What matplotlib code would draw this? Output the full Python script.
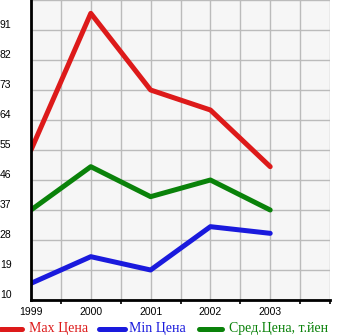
import matplotlib
matplotlib.use('Agg')
import matplotlib.pyplot as plt
from matplotlib.lines import Line2D

years = [1999, 2000, 2001, 2002, 2003]
max_price = [55, 96, 73, 67, 50]
min_price = [15, 23, 19, 32, 30]
avg_price = [37, 50, 41, 46, 37]
y_ticks = [10, 19, 28, 37, 46, 55, 64, 73, 82, 91]
labels = ['Max Цена', 'Min Цена', 'Сред.Цена, т.йен']
colors = ['#dd1a1a', '#1a1add', '#0a820a']

W, H = 345, 335
fig = plt.figure(figsize=(W / 100, H / 100), dpi=100)
ax = fig.add_axes([31 / W, 1 - 300 / H, 299 / W, 300 / H])
ax.set_facecolor('#f6f6f6')

for vals, c, lab in zip([max_price, min_price, avg_price], colors, labels):
    ax.plot(years, vals, color=c, lw=3.6, solid_capstyle='round', label=lab)

ax.set_xlim(1999, 2004)
ax.set_ylim(10, 100)
ax.set_yticks(y_ticks)
ax.set_yticklabels([str(v) for v in y_ticks], ha='left', va='bottom',
                   family='Liberation Sans', fontsize=7.5)
ax.set_xticks(years)
ax.set_xticklabels([str(y) for y in years], family='Liberation Sans', fontsize=7.5)
ax.set_xticks([1999.5, 2000.5, 2001.5, 2002.5, 2003.5, 2004], minor=True)
ax.grid(True, which='both', axis='x', color='#bbbbbb', lw=1)
ax.grid(True, which='major', axis='y', color='#bbbbbb', lw=1)
ax.axhline(100, color='#bbbbbb', lw=1)
ax.set_axisbelow(True)
ax.tick_params(axis='y', which='both', length=0, pad=22.5)
ax.tick_params(axis='x', which='major', length=0, pad=5)
ax.tick_params(axis='x', which='minor', length=3, width=1.2, direction='out')
for s in ['top', 'right']:
    ax.spines[s].set_visible(False)
for s in ['left', 'bottom']:
    ax.spines[s].set_linewidth(2)

# legend row along the bottom edge
handle_x = [(0, 22), (99, 125), (199, 222)]
text_x = [29, 129, 229]
ly = 1 - 328.5 / H
for (x0, x1), tx, c, lab in zip(handle_x, text_x, colors, labels):
    fig.add_artist(Line2D([x0 / W, x1 / W], [ly, ly], transform=fig.transFigure,
                          color=c, lw=3.6, solid_capstyle='round'))
    fig.text(tx / W, ly, lab, color=c, ha='left', va='center',
             family='Liberation Serif', fontsize=10)

fig.savefig('out.png', dpi=100)
